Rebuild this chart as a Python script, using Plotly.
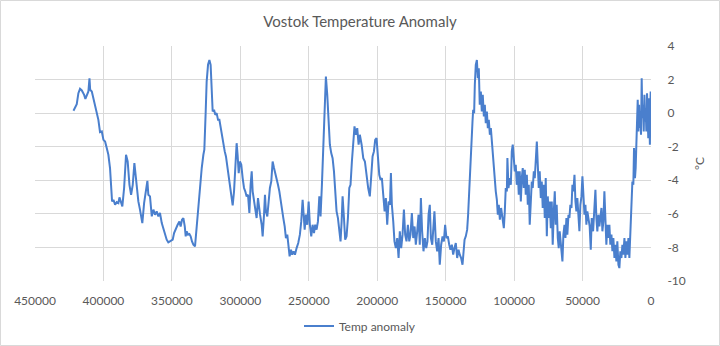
import plotly.graph_objects as go

# ---- data (years before present, temperature anomaly in °C) ----
age = [
    421900, 420700, 419500, 418300, 417100, 415800, 414100, 413200, 412200, 411000,
    410200, 409700, 408500, 407300, 405400, 403700, 402500, 401200, 400000, 398800,
    397600, 396400, 395200, 394400, 393700, 392700, 391500, 390300, 389100, 388300,
    387400, 386200, 384900, 383500, 382300, 381000, 379800, 378600, 377400, 376200,
    374500, 373300, 371600, 370300, 368900, 367900, 367200, 366000, 364700, 363500,
    362300, 361100, 359900, 358700,
    357400, 356200, 355000, 353800, 352600, 350900, 349400, 348400, 347000, 345800,
    344500, 343600, 342600, 341600, 340600, 339900, 339200, 338200, 337200, 336300,
    335300, 334300, 333100, 331900, 330700, 329400, 328200, 327000, 326300, 325300,
    324600, 323600, 322600, 321700, 320900, 320200, 319200, 318300, 317300, 316300,
    315300, 314400, 313400, 312400, 311400, 310500, 309300, 308000, 306800, 305600,
    304600, 303700, 302700, 302000, 301200, 300300, 299300, 298300, 297300, 296400,
    295400, 294400, 293400, 292500, 291700, 291000, 290000, 289100, 288100, 287100,
    286200,
    285600, 284400, 283700, 282700, 282000, 281300, 280300, 279300, 278400, 277400,
    276400, 275400, 274500, 273500, 272500, 271500, 270600, 269600, 268600, 267600,
    266700, 265700, 264700, 264000, 263000, 262100, 261100, 260100, 258900, 257700,
    256500, 255500, 254500, 253800, 253000, 252100, 251100, 250100, 249200, 248200,
    247200, 246200, 245300, 244300, 243300, 242300, 241400, 240400, 239400, 238400,
    237500, 236500, 235500, 234600, 233600, 232600, 231600, 230600, 229700, 228700,
    227700, 226800, 226000, 225300, 224300, 223400, 222400, 221400, 220400, 219500,
    218500, 217500, 216600, 215600, 214600, 213600, 212700,
    211400, 210200, 209000, 207800, 206600, 205400, 204400, 203400, 202400, 201500,
    200500, 199500, 198500, 197600, 196600, 195600, 194600, 193700, 192700, 191700,
    190700, 190000, 189300, 188300, 187400, 186400, 185400, 184400, 183500, 182500,
    181500, 180500, 179600, 178600, 177600, 176600, 175700, 174700, 173700, 172700,
    171800, 170800, 169800, 168900, 168100, 167200, 166200, 165200, 164200, 163300,
    162500, 161600, 160800, 159800, 159100, 158200, 157200, 156200, 155200, 154300,
    153300, 152300, 151300, 150400, 149400, 148400, 147400, 146500, 145500, 144500,
    143600, 142600, 141600, 140600, 139700,
    138700, 137700, 137000, 136200, 135300, 134300, 133600, 132800, 131900, 131100,
    130400, 129900, 129200, 128700, 128000, 127200, 126500, 125800, 125100, 124300,
    123600, 122900, 122100, 121400, 120700, 119900, 119200, 118500, 117700, 117000,
    116300, 115600, 114800, 114100, 113400, 112600, 111900, 111200, 110400, 109500,
    108500, 107500, 106800, 106100, 105300, 104900, 104100, 103200, 102400, 101700,
    101000, 100200, 99500, 98800, 98050, 97300, 96600, 95900, 95100, 94400,
    93700, 92900, 92200, 91500, 90700, 90000, 89300, 88600, 87800, 87100,
    86400, 85600, 84900, 84200, 83400, 82700, 82000, 81300, 80500, 79800,
    79100, 78300, 77600, 76900, 76100, 75400, 74700, 74000, 73200, 72500,
    71800, 71000, 70300, 69600, 68900, 68100, 67400, 66700,
    65700, 64700, 64000, 63200, 62500, 61800, 61100, 60300, 59600, 58900,
    58100, 57400, 56700, 55900, 55200, 54500, 53800, 53000, 52300, 51600,
    50800, 50100, 49400, 48600, 47900, 47200, 46500, 45700, 44800, 44000,
    43300, 42300, 41400, 40600, 39900, 39200, 38400, 37700, 37000, 36200,
    35500, 34800, 34050, 33300, 32600, 31900, 31100, 30400, 29700, 28900,
    28200, 27500, 26700, 26000, 25300, 24600, 23800, 23100, 22400, 21600,
    20900, 20200, 19400, 18700, 18000, 17300, 16500, 15800, 15000, 14300,
    13600, 12900, 12400, 11700, 11200, 10700, 10200, 9700, 9200, 8700,
    8300, 7800, 7300, 6800, 6300, 5800, 5300, 4800, 4400, 3900,
    3400, 2900, 2400, 2000, 1600, 1200, 800, 500, 250, 0,
]

temp = [
    0.14, 0.30, 0.54, 1.19, 1.45, 1.35, 1.09, 0.85, 1.09, 1.29,
    2.08, 1.39, 1.29, 0.89, 0.30, -0.40, -1.13, -1.09, -1.59, -1.69,
    -2.08, -2.48, -3.27, -4.27, -5.26, -5.16, -5.46, -5.30, -5.36, -5.02,
    -5.26, -5.56, -4.46, -2.48, -2.88, -4.27, -4.86, -4.27, -2.98, -4.07,
    -5.26, -5.75, -6.55, -5.36, -4.66, -4.03, -4.86, -4.96, -6.15, -5.75,
    -6.05, -5.85, -6.15, -5.95,
    -6.55, -6.94, -7.24, -7.54, -7.70, -7.64, -7.54, -7.14, -6.80, -6.65,
    -6.45, -6.75, -6.35, -6.25, -6.75, -7.34, -7.04, -7.24, -7.20, -7.34,
    -7.64, -7.84, -7.94, -6.75, -5.46, -4.46, -3.27, -2.48, -2.18, 0.10,
    1.88, 2.88, 3.17, 2.88, 1.69, 0.10, 0.20, -0.10, 0.00, -0.40,
    -0.40, -0.89, -1.29, -1.79, -2.28, -2.58, -3.37, -4.07, -4.76, -5.50,
    -4.66, -3.47, -1.79, -2.48, -3.57, -2.88, -3.08, -3.87, -4.46, -4.66,
    -4.96, -4.86, -5.95, -4.27, -3.47, -4.66, -5.26, -5.56, -6.25, -5.06,
    -5.85,
    -6.05, -6.65, -7.34, -6.05, -4.86, -5.85, -6.15, -5.26, -4.46, -4.07,
    -2.88, -3.27, -3.57, -3.77, -4.27, -4.66, -5.26, -5.75, -6.25, -6.75,
    -7.44, -7.24, -8.04, -8.53, -8.14, -8.43, -8.23, -8.43, -8.04, -7.74,
    -7.24, -6.45, -5.16, -6.35, -6.94, -6.05, -6.65, -5.26, -6.65, -7.34,
    -6.65, -7.14, -6.65, -6.94, -6.45, -4.96, -6.15, -4.27, -1.88, 0.10,
    2.18, 1.09, -1.09, -1.88, -2.38, -2.68, -3.47, -4.46, -5.85, -6.25,
    -7.14, -7.64, -6.45, -4.96, -6.25, -7.54, -7.34, -6.25, -4.46, -4.27,
    -2.88, -1.88, -0.79, -1.29, -0.89, -1.88, -1.29,
    -1.88, -2.68, -2.88, -3.87, -4.46, -4.96, -3.87, -2.58, -2.28, -1.59,
    -1.49, -2.48, -3.67, -3.97, -3.87, -4.86, -5.85, -5.06, -6.65, -5.26,
    -5.46, -3.57, -5.46, -6.45, -7.64, -8.04, -7.44, -8.63, -7.04, -8.04,
    -7.24, -5.75, -7.24, -7.64, -6.65, -7.64, -7.24, -5.95, -7.44, -6.75,
    -7.84, -7.04, -6.05, -7.84, -5.06, -7.04, -8.23, -7.44, -8.04, -7.64,
    -6.05, -5.46, -7.44, -7.84, -7.04, -5.85, -7.64, -8.23, -7.44, -9.03,
    -7.84, -7.34, -7.64, -6.65, -7.44, -7.34, -7.84, -8.14, -7.84, -8.43,
    -8.04, -7.74, -8.63, -8.14, -8.43,
    -8.63, -9.03, -8.23, -7.54, -7.34, -6.94, -6.05, -4.46, -3.27, -1.88,
    -0.50, 0.20, 0.00, 1.69, 2.88, 3.17, 2.08, 2.68, 0.50, 1.29,
    0.10, 1.09, -0.20, 0.50, -0.60, 0.10, -0.89, -0.40, -1.29, -0.89,
    -1.69, -2.08, -2.88, -3.77, -4.66, -5.16, -6.05, -5.46, -6.35, -5.65,
    -6.25, -6.85, -5.85, -4.46, -4.66, -2.68, -4.46, -3.87, -4.27, -2.28,
    -1.88, -2.88, -3.47, -3.08, -4.27, -3.47, -4.86, -3.47, -5.26, -3.87,
    -3.27, -4.46, -3.37, -4.86, -3.67, -5.46, -4.27, -6.65, -4.66, -4.07,
    -4.46, -3.47, -3.87, -2.68, -1.69, -3.08, -4.46, -3.47, -5.06, -4.07,
    -5.65, -4.27, -6.25, -3.87, -7.34, -4.96, -6.25, -5.26, -6.85, -5.26,
    -7.84, -5.85, -4.66, -6.65, -5.46, -7.44, -8.04, -7.04,
    -8.04, -8.83, -7.24, -6.65, -7.44, -6.25, -7.24, -6.05, -6.25, -5.46,
    -5.65, -4.27, -4.66, -3.67, -5.26, -5.85, -5.06, -6.25, -7.04, -5.46,
    -4.96, -3.77, -5.26, -6.05, -5.46, -6.65, -5.85, -6.25, -6.75, -8.14,
    -6.25, -7.04, -5.85, -4.56, -6.25, -7.04, -6.05, -6.75, -6.25, -5.65,
    -7.04, -6.45, -4.66, -6.94, -7.84, -6.65, -7.44, -6.65, -7.84, -7.24,
    -8.23, -7.44, -8.63, -7.84, -8.83, -7.64, -9.03, -9.23, -8.23, -8.63,
    -7.84, -8.43, -7.44, -8.63, -7.64, -8.43, -7.44, -8.63, -7.04, -5.46,
    -4.07, -4.27, -2.08, -3.87, -3.27, -1.88, -0.69, 0.79, -1.09, 0.50,
    -0.89, 0.10, -1.29, 2.08, -0.30, 0.50, -1.09, 1.09, -0.50, 0.30,
    -1.09, 1.19, -0.10, -1.49, 0.89, -0.69, -1.88, 0.50, 1.29, -0.69,
]

series_name = "Temp anomaly"
chart_title = "Vostok Temperature Anomaly"
y_title = "°C"
x_tick_vals = [450000, 400000, 350000, 300000, 250000, 200000, 150000, 100000, 50000, 0]
x_tick_text = ["450000", "400000", "350000", "300000", "250000", "200000", "150000", "100000", "50000", "0"]
y_tick_vals = [4, 2, 0, -2, -4, -6, -8, -10]
y_tick_text = ["4", "2", "0", "-2", "-4", "-6", "-8", "-10"]

# ---- styling ----
W, H = 720, 346
ML, MR, MT, MB = 35, 69, 46, 65
FONT = "Lato, 'Open Sans', sans-serif"
TXT = "#595959"
GRID = "#d9d9d9"
LINE = "#4a7fcd"

pw = W - ML - MR
ph = H - MT - MB

fig = go.Figure()
fig.add_trace(go.Scatter(
    x=age, y=temp, mode="lines", name=series_name,
    line=dict(color=LINE, width=2), showlegend=True,
))

# chart-area border
fig.add_shape(
    type="rect", xref="paper", yref="paper",
    x0=(0.5 - ML) / pw, x1=(W - 0.5 - ML) / pw,
    y0=(0.5 - MB) / ph, y1=(H - MB - 0.5) / ph,
    line=dict(color=GRID, width=1), fillcolor="rgba(0,0,0,0)", layer="below",
)

fig.update_layout(
    width=W, height=H,
    margin=dict(l=ML, r=MR, t=MT, b=MB, autoexpand=False),
    paper_bgcolor="white", plot_bgcolor="white",
    font=dict(family=FONT, color=TXT, size=12),
    title=dict(text=chart_title, x=0.5, xref="container", xanchor="center",
               y=1 - 22 / H, yref="container", yanchor="middle",
               font=dict(size=15, color=TXT, family=FONT)),
    showlegend=True,
    legend=dict(orientation="h", x=(W / 2 - ML) / pw, xref="paper", xanchor="center",
                y=(H - MB - 326) / ph, yref="paper", yanchor="middle",
                font=dict(size=12, color=TXT), itemwidth=30),
    xaxis=dict(range=[450000, 0], tickvals=x_tick_vals, ticktext=x_tick_text,
               showgrid=True, gridcolor=GRID, gridwidth=1, zeroline=False,
               showline=False, ticks="outside", ticklen=9,
               tickcolor="rgba(0,0,0,0)", tickfont=dict(size=12, color=TXT),
               automargin=False),
    yaxis=dict(range=[-10, 4], side="right", tickvals=y_tick_vals, ticktext=y_tick_text,
               showgrid=True, gridcolor=GRID, gridwidth=1, zeroline=False,
               showline=False, ticks="outside", ticklen=13,
               tickcolor="rgba(0,0,0,0)", tickfont=dict(size=12, color=TXT),
               automargin=False,
               title=dict(text=y_title, standoff=10, font=dict(size=12, color=TXT))),
)

fig.write_html("out.html")
